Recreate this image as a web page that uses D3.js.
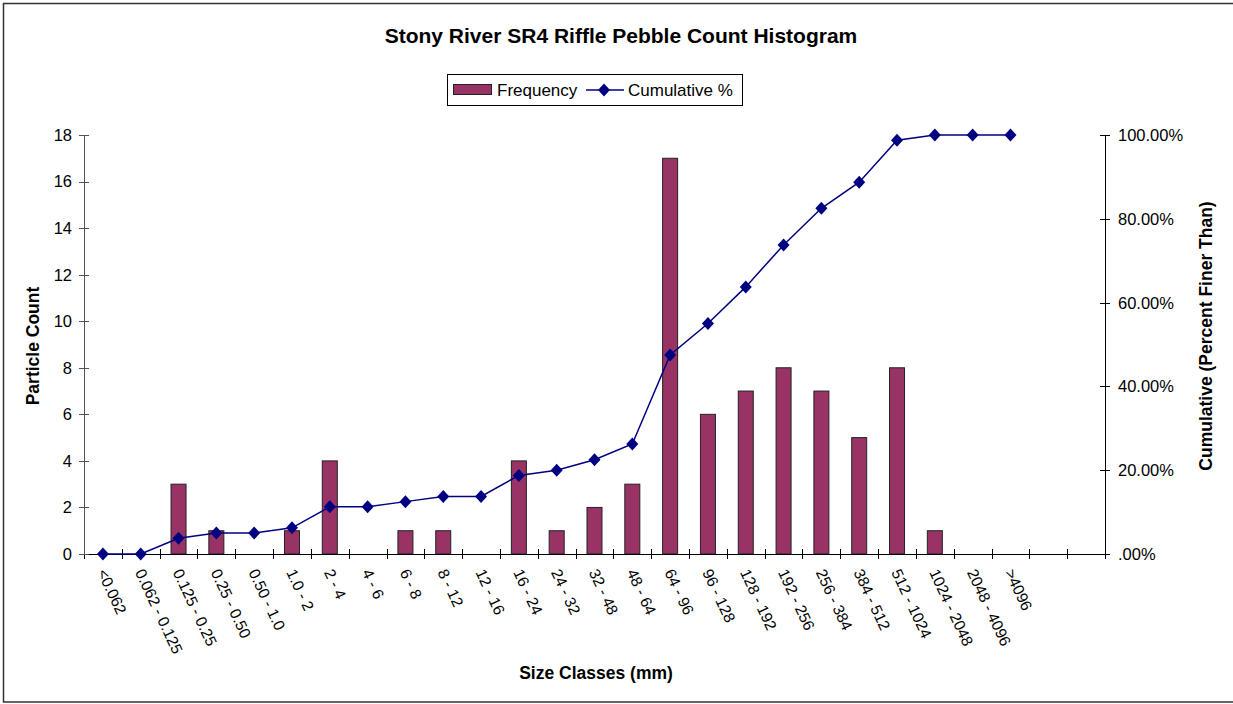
<!DOCTYPE html>
<html>
<head>
<meta charset="utf-8">
<script src="https://cdn.jsdelivr.net/npm/d3@7"></script>
<style>
  body { margin: 0; background: #fff; }
  text { font-family: "Liberation Sans", Arial, sans-serif; }
</style>
</head>
<body>
<div id="container"></div>
<script>
// size classes (two trailing empty slots on the axis)
const categories = ["<0.062", "0.062 - 0.125", "0.125 - 0.25", "0.25 - 0.50", "0.50 - 1.0",
  "1.0 - 2", "2 - 4", "4 - 6", "6 - 8", "8 - 12", "12 - 16", "16 - 24", "24 - 32",
  "32 - 48", "48 - 64", "64 - 96", "96 - 128", "128 - 192", "192 - 256", "256 - 384",
  "384 - 512", "512 - 1024", "1024 - 2048", "2048 - 4096", ">4096", "", ""];
const frequency = [0, 0, 3, 1, 0, 1, 4, 0, 1, 1, 0, 4, 1, 2, 3, 17, 6, 7, 8, 7, 5, 8, 1, 0, 0];
const cumulative = [0, 0, 0.0375, 0.05, 0.05, 0.0625, 0.1125, 0.1125, 0.125, 0.1375, 0.1375,
  0.1875, 0.20, 0.225, 0.2625, 0.475, 0.55, 0.6375, 0.7375, 0.825, 0.8875, 0.9875, 1, 1, 1];
const countTicks = [0, 2, 4, 6, 8, 10, 12, 14, 16, 18];
const pctTicks = [0, 0.2, 0.4, 0.6, 0.8, 1];

const W = 1233, H = 704;
const plot = { left: 84, right: 1105, top: 135, bottom: 554 };

const svg = d3.select("#container").append("svg")
  .attr("width", W).attr("height", H);

// outer border
svg.append("rect")
  .attr("x", 3.5).attr("y", 3.5)
  .attr("width", 1232).attr("height", 698.5)
  .attr("fill", "#fff").attr("stroke", "#333").attr("stroke-width", 1.5);

const xBand = d3.scaleBand()
  .domain(d3.range(categories.length))
  .range([plot.left, plot.right]);

const yL = d3.scaleLinear().domain([0, 18]).range([plot.bottom, plot.top]);
const yR = d3.scaleLinear().domain([0, 1]).range([plot.bottom, plot.top]);

// bars
svg.append("g").selectAll("rect")
  .data(frequency.map((v, i) => ({ v, i })).filter(d => d.v > 0))
  .join("rect")
  .attr("x", d => xBand(d.i) + xBand.bandwidth() / 2 - 7.5)
  .attr("width", 15)
  .attr("y", d => yL(d.v))
  .attr("height", d => yL(0) - yL(d.v))
  .attr("fill", "#993366")
  .attr("stroke", "#222")
  .attr("stroke-width", 1);

// axes
const tickCross = 5;
const axisColor = "#000";

// bottom axis
const gx = svg.append("g");
gx.append("line")
  .attr("x1", plot.left).attr("x2", plot.right)
  .attr("y1", plot.bottom + 0.5).attr("y2", plot.bottom + 0.5)
  .attr("stroke", axisColor);
gx.selectAll("line.tick")
  .data(d3.range(categories.length + 1))
  .join("line")
  .attr("class", "tick")
  .attr("x1", i => Math.round(plot.left + i * xBand.step()) + 0.5)
  .attr("x2", i => Math.round(plot.left + i * xBand.step()) + 0.5)
  .attr("y1", plot.bottom - tickCross)
  .attr("y2", plot.bottom + tickCross)
  .attr("stroke", axisColor);
gx.selectAll("text")
  .data(categories)
  .join("text")
  .attr("transform", (d, i) => `translate(${xBand(i) + xBand.bandwidth() / 2 - 1},${plot.bottom + 16}) rotate(65)`)
  .attr("dy", "0.35em")
  .attr("text-anchor", "start")
  .style("font-size", "15.5px")
  .text(d => d);

// left axis
const gl = svg.append("g");
gl.append("line")
  .attr("x1", plot.left + 0.5).attr("x2", plot.left + 0.5)
  .attr("y1", plot.top).attr("y2", plot.bottom)
  .attr("stroke", "#555");
gl.selectAll("line.tick")
  .data(countTicks)
  .join("line")
  .attr("class", "tick")
  .attr("x1", plot.left - tickCross).attr("x2", plot.left + tickCross)
  .attr("y1", d => Math.round(yL(d)) + 0.5).attr("y2", d => Math.round(yL(d)) + 0.5)
  .attr("stroke", "#555");
gl.selectAll("text")
  .data(countTicks)
  .join("text")
  .attr("x", plot.left - 12)
  .attr("y", d => yL(d))
  .attr("dy", "0.36em")
  .attr("text-anchor", "end")
  .style("font-size", "16.5px")
  .text(d => d);

// right axis
const pctFormat = d => d === 0 ? ".00%" : d3.format(".2%")(d);
const gr = svg.append("g");
gr.append("line")
  .attr("x1", plot.right + 0.5).attr("x2", plot.right + 0.5)
  .attr("y1", plot.top).attr("y2", plot.bottom)
  .attr("stroke", axisColor);
gr.selectAll("line.tick")
  .data(pctTicks)
  .join("line")
  .attr("class", "tick")
  .attr("x1", plot.right - tickCross).attr("x2", plot.right + tickCross)
  .attr("y1", d => Math.round(yR(d)) + 0.5).attr("y2", d => Math.round(yR(d)) + 0.5)
  .attr("stroke", axisColor);
gr.selectAll("text")
  .data(pctTicks)
  .join("text")
  .attr("x", plot.right + 13)
  .attr("y", d => yR(d))
  .attr("dy", "0.36em")
  .attr("text-anchor", "start")
  .style("font-size", "16.5px")
  .text(pctFormat);

// cumulative line
const cx = (d, i) => xBand(i) + xBand.bandwidth() / 2;
svg.append("path")
  .datum(cumulative)
  .attr("fill", "none")
  .attr("stroke", "#000080")
  .attr("stroke-width", 1.5)
  .attr("d", d3.line().x(cx).y(d => yR(d)));

const diamond = "M0,-6.5L6,0L0,6.5L-6,0Z";
svg.append("g").selectAll("path")
  .data(cumulative)
  .join("path")
  .attr("transform", (d, i) => `translate(${cx(d, i)},${yR(d)})`)
  .attr("d", diamond)
  .attr("fill", "#000080");

// title
svg.append("text")
  .attr("x", 621).attr("y", 43)
  .attr("text-anchor", "middle")
  .style("font-size", "21px")
  .style("font-weight", "bold")
  .text("Stony River SR4 Riffle Pebble Count Histogram");

// axis titles
svg.append("text")
  .attr("transform", `translate(39,346) rotate(-90)`)
  .attr("text-anchor", "middle")
  .style("font-size", "17.5px")
  .style("font-weight", "bold")
  .text("Particle Count");

svg.append("text")
  .attr("transform", `translate(1212,336) rotate(-90)`)
  .attr("text-anchor", "middle")
  .style("font-size", "17.5px")
  .style("font-weight", "bold")
  .text("Cumulative (Percent Finer Than)");

svg.append("text")
  .attr("x", 596).attr("y", 679)
  .attr("text-anchor", "middle")
  .style("font-size", "17.5px")
  .style("font-weight", "bold")
  .text("Size Classes (mm)");

// legend
const legend = svg.append("g").attr("transform", "translate(447,74)");
legend.append("rect")
  .attr("x", 0.5).attr("y", 0.5)
  .attr("width", 295).attr("height", 31)
  .attr("fill", "#fff").attr("stroke", "#000");
legend.append("rect")
  .attr("x", 6.5).attr("y", 10.5)
  .attr("width", 38).attr("height", 10)
  .attr("fill", "#993366").attr("stroke", "#222");
legend.append("text")
  .attr("x", 50).attr("y", 21.5)
  .style("font-size", "17px")
  .text("Frequency");
legend.append("line")
  .attr("x1", 139).attr("x2", 177)
  .attr("y1", 16).attr("y2", 16)
  .attr("stroke", "#000080").attr("stroke-width", 1.5);
legend.append("path")
  .attr("transform", "translate(157,16)")
  .attr("d", diamond)
  .attr("fill", "#000080");
legend.append("text")
  .attr("x", 181).attr("y", 21.5)
  .style("font-size", "17px")
  .text("Cumulative %");
</script>
</body>
</html>
